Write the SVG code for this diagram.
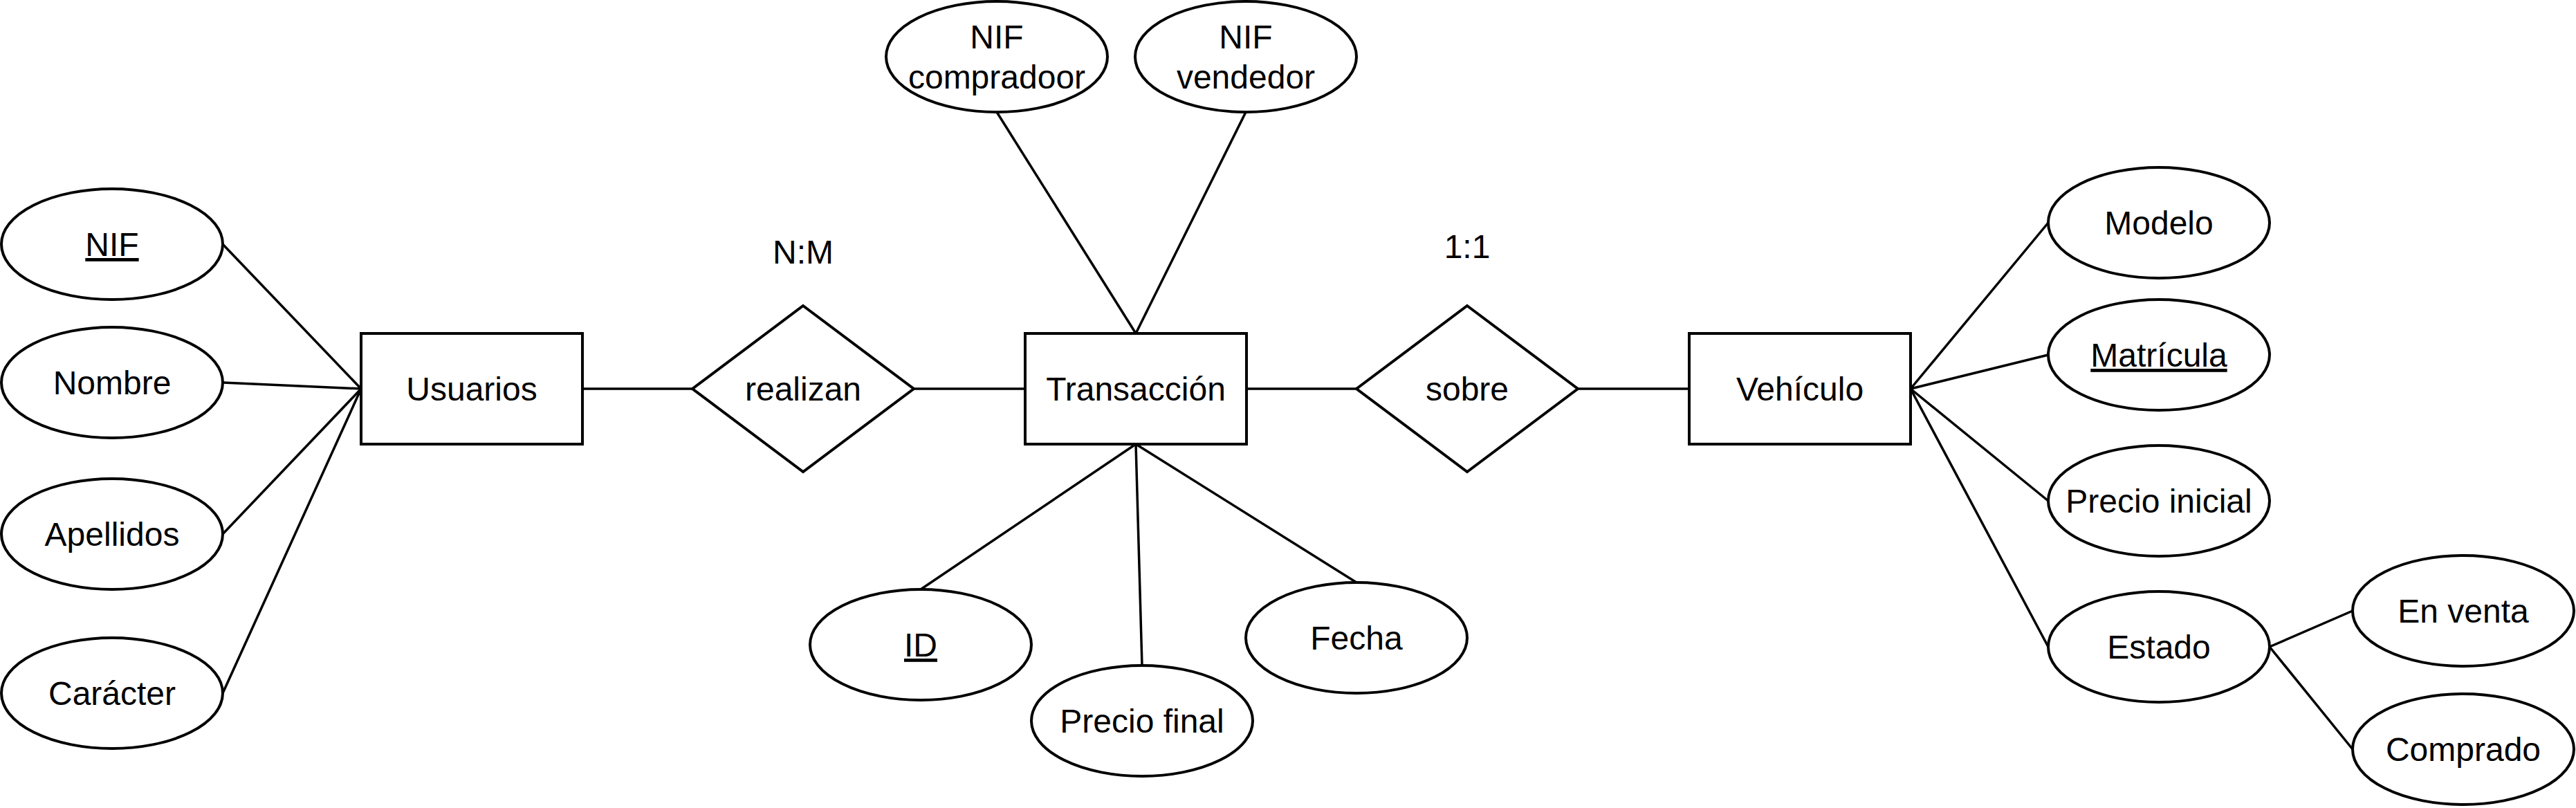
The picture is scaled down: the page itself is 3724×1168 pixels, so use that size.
<svg xmlns="http://www.w3.org/2000/svg" width="3724" height="1168" viewBox="0 0 3724 1168">
<style>
.s{fill:#fff;stroke:#000;stroke-width:4}
.c line{stroke:#000;stroke-width:3.5}
text{font-family:"Liberation Sans",Arial,sans-serif;font-size:48px;fill:#000;text-anchor:middle}
.u{text-decoration:underline}
</style>
<rect width="3724" height="1168" fill="#fff"/>
<g class="c" id="connectors">
<line x1="322" y1="353" x2="522" y2="562"/>
<line x1="322" y1="553" x2="522" y2="562"/>
<line x1="322" y1="772" x2="522" y2="562"/>
<line x1="322" y1="1002" x2="522" y2="562"/>
<line x1="842" y1="562" x2="1001" y2="562"/>
<line x1="1321" y1="562" x2="1482" y2="562"/>
<line x1="1802" y1="562" x2="1961" y2="562"/>
<line x1="2281" y1="562" x2="2442" y2="562"/>
<line x1="1441" y1="162" x2="1642" y2="482"/>
<line x1="1801" y1="162" x2="1642" y2="482"/>
<line x1="1642" y1="642" x2="1331" y2="852"/>
<line x1="1642" y1="642" x2="1651" y2="962"/>
<line x1="1642" y1="642" x2="1961" y2="842"/>
<line x1="2762" y1="562" x2="2961" y2="322"/>
<line x1="2762" y1="562" x2="2961" y2="513"/>
<line x1="2762" y1="562" x2="2961" y2="724"/>
<line x1="2762" y1="562" x2="2961" y2="935"/>
<line x1="3281" y1="935" x2="3401" y2="883"/>
<line x1="3281" y1="935" x2="3401" y2="1083"/>
</g>
<g id="nif"><ellipse class="s" cx="162" cy="353" rx="160" ry="80"/><text class="u" x="162" y="370">NIF</text></g>
<g id="nombre"><ellipse class="s" cx="162" cy="553" rx="160" ry="80"/><text x="162" y="570">Nombre</text></g>
<g id="apellidos"><ellipse class="s" cx="162" cy="772" rx="160" ry="80"/><text x="162" y="789">Apellidos</text></g>
<g id="caracter"><ellipse class="s" cx="162" cy="1002" rx="160" ry="80"/><text x="162" y="1019">Carácter</text></g>
<g id="usuarios"><rect class="s" x="522" y="482" width="320" height="160"/><text x="682" y="579">Usuarios</text></g>
<g id="realizan"><polygon class="s" points="1161,442 1321,562 1161,682 1001,562"/><text x="1161" y="579">realizan</text></g>
<g id="nm"><text x="1161" y="381">N:M</text></g>
<g id="transaccion"><rect class="s" x="1482" y="482" width="320" height="160"/><text x="1642" y="579">Transacción</text></g>
<g id="nif-comprador"><ellipse class="s" cx="1441" cy="82" rx="160" ry="80"/><text x="1441" y="70">NIF</text><text x="1441" y="128">compradoor</text></g>
<g id="nif-vendedor"><ellipse class="s" cx="1801" cy="82" rx="160" ry="80"/><text x="1801" y="70">NIF</text><text x="1801" y="128">vendedor</text></g>
<g id="id"><ellipse class="s" cx="1331" cy="932" rx="160" ry="80"/><text class="u" x="1331" y="949">ID</text></g>
<g id="precio-final"><ellipse class="s" cx="1651" cy="1042" rx="160" ry="80"/><text x="1651" y="1059">Precio final</text></g>
<g id="fecha"><ellipse class="s" cx="1961" cy="922" rx="160" ry="80"/><text x="1961" y="939">Fecha</text></g>
<g id="sobre"><polygon class="s" points="2121,442 2281,562 2121,682 1961,562"/><text x="2121" y="579">sobre</text></g>
<g id="uno-uno"><text x="2121" y="373">1:1</text></g>
<g id="vehiculo"><rect class="s" x="2442" y="482" width="320" height="160"/><text x="2602" y="579">Vehículo</text></g>
<g id="modelo"><ellipse class="s" cx="3121" cy="322" rx="160" ry="80"/><text x="3121" y="339">Modelo</text></g>
<g id="matricula"><ellipse class="s" cx="3121" cy="513" rx="160" ry="80"/><text class="u" x="3121" y="530">Matrícula</text></g>
<g id="precio-inicial"><ellipse class="s" cx="3121" cy="724" rx="160" ry="80"/><text x="3121" y="741">Precio inicial</text></g>
<g id="estado"><ellipse class="s" cx="3121" cy="935" rx="160" ry="80"/><text x="3121" y="952">Estado</text></g>
<g id="en-venta"><ellipse class="s" cx="3561" cy="883" rx="160" ry="80"/><text x="3561" y="900">En venta</text></g>
<g id="comprado"><ellipse class="s" cx="3561" cy="1083" rx="160" ry="80"/><text x="3561" y="1100">Comprado</text></g>
</svg>
